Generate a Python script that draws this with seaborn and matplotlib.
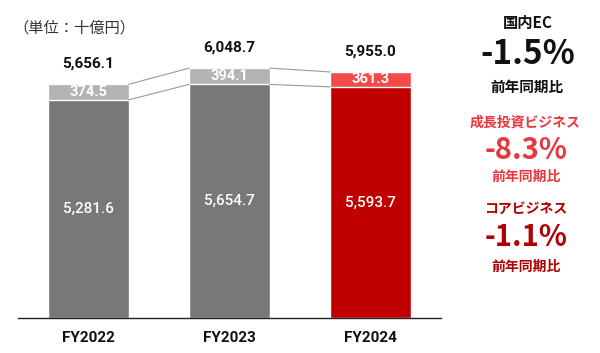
import numpy as np
import matplotlib.pyplot as plt
import seaborn as sns
import pandas as pd

# データ（単位：十億円）
years = ["FY2022", "FY2023", "FY2024"]
totals = [5656.1, 6048.7, 5955.0]
core = [5281.6, 5654.7, 5593.7]
growth = [374.5, 394.1, 361.3]

sns.set_theme(style="white")
plt.rcParams['font.family'] = ['Noto Sans CJK JP', 'DejaVu Sans']

fig = plt.figure(figsize=(6, 3.53), dpi=100)
ax = fig.add_axes([0.03, 0.099, 0.705, 0.878])

df = pd.DataFrame({"year": years, "total": totals, "core": core, "growth": growth})

# 上段（成長投資）は合計値の棒、その上にコアの棒を重ねる
light = ["#b3b3b3", "#b3b3b3", "#f24a4a"]
dark = ["#787878", "#787878", "#c00000"]
w = 0.57
sns.barplot(data=df, x="year", y="total", hue="year", palette=light, width=w,
            legend=False, ax=ax, saturation=1)
sns.barplot(data=df, x="year", y="core", hue="year", palette=dark, width=w,
            legend=False, ax=ax, saturation=1)

# 棒同士をつなぐ線
for i in range(len(years) - 1):
    ax.plot([i + w / 2, i + 1 - w / 2], [totals[i], totals[i + 1]], color="#9a9a9a", lw=0.8)
    ax.plot([i + w / 2, i + 1 - w / 2], [core[i], core[i + 1]], color="#9a9a9a", lw=0.8)

for i in range(len(years)):
    ax.text(i, totals[i] + 500, f"{totals[i]:,.1f}", ha="center", va="center",
            fontsize=11, fontweight="bold", color="#111111", family="Roboto")
    ax.text(i, core[i] + growth[i] / 2, f"{growth[i]:,.1f}", ha="center", va="center",
            fontsize=10.5, fontweight="bold", color="white", family="Roboto")
    ax.text(i, core[i] / 2, f"{core[i]:,.1f}", ha="center", va="center",
            fontsize=11, fontweight="medium", color="white", family="Roboto")

ax.set_xlim(-0.5, 2.5)
ax.set_ylim(0, 7500)
ax.set_xlabel("")
ax.set_ylabel("")
ax.set_yticks([])
for s in ["top", "right", "left"]:
    ax.spines[s].set_visible(False)
ax.spines["bottom"].set_color("#222222")
ax.spines["bottom"].set_linewidth(1.0)
ax.tick_params(axis="x", length=0, pad=9)
for lab in ax.get_xticklabels():
    lab.set_fontweight("bold")
    lab.set_fontsize(11)
    lab.set_color("#111111")
    lab.set_family("Roboto")

fig.text(0.022, 0.92, "（単位：十億円）", fontsize=11, color="#333333", va="center")

# 右側の前年同期比
fig.text(0.879, 0.935, "国内EC", ha="center", va="center", fontsize=11, fontweight="bold", color="#111111")
fig.text(0.879, 0.845, "-1.5%", ha="center", va="center", fontsize=24, fontweight="bold", color="#111111")
fig.text(0.879, 0.754, "前年同期比", ha="center", va="center", fontsize=10.5, fontweight="bold", color="#111111")

fig.text(0.876, 0.654, "成長投資ビジネス", ha="center", va="center", fontsize=10, fontweight="bold", color="#e8383d")
fig.text(0.876, 0.575, "-8.3%", ha="center", va="center", fontsize=21, fontweight="bold", color="#e8383d")
fig.text(0.876, 0.498, "前年同期比", ha="center", va="center", fontsize=10, fontweight="bold", color="#e8383d")

fig.text(0.876, 0.410, "コアビジネス", ha="center", va="center", fontsize=10, fontweight="bold", color="#b00000")
fig.text(0.876, 0.329, "-1.1%", ha="center", va="center", fontsize=21, fontweight="bold", color="#b00000")
fig.text(0.876, 0.244, "前年同期比", ha="center", va="center", fontsize=10, fontweight="bold", color="#b00000")

fig.savefig("out.png", dpi=100)
